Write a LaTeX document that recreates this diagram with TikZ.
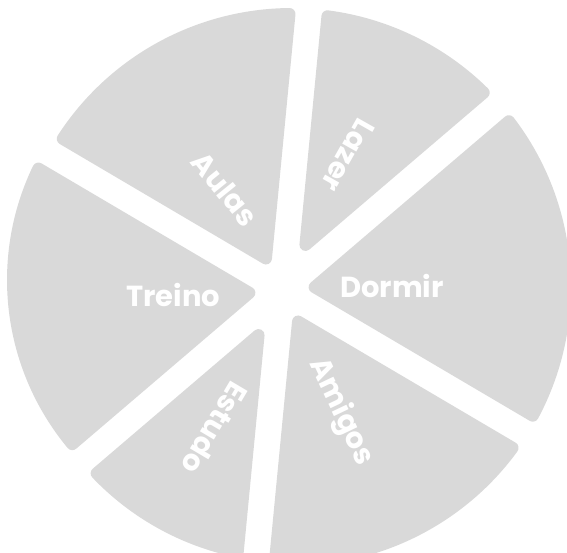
\documentclass[tikz,border=0pt]{standalone}
\usepackage{fontspec}
\setmainfont{Poppins}
\usepackage{tikz}
\usetikzlibrary{calc}
\definecolor{slicegray}{HTML}{D9D9D9}
\tikzset{
  pieslice/.style={fill=slicegray, draw=slicegray, line width=12pt, line join=round},
  slicelabel/.style={text=white, font=\bfseries\fontsize{29}{32}\selectfont, inner sep=0pt},
}

\begin{document}
\begin{tikzpicture}[x=1pt, y=1pt]
  \useasboundingbox (0,0) rectangle (567,552);
  % centre of the cuts and centres of the rims
  \coordinate (O) at (282,262);
  \coordinate (C) at (292,265);
  \coordinate (Ct) at (270,272);

  % Slices
  \filldraw[pieslice] ($(O)+(23.42,44.99)$) -- ($(C)+(45.38:273)$) arc[start angle=45.38, end angle=82.54, radius=273] -- cycle;
  \filldraw[pieslice] ($(O)+(-16.05,31.5)$) -- ($(C)+(90.53:273)$) arc[start angle=90.53, end angle=147.12, radius=273] -- cycle;
  \filldraw[pieslice] ($(O)+(-32.6,-2.85)$) -- ($(Ct)+(154.3:257)$) arc[start angle=154.3, end angle=219.7, radius=257] -- cycle;
  \filldraw[pieslice] ($(O)+(-23.42,-44.99)$) -- ($(C)+(223.64:270)$) arc[start angle=223.64, end angle=258.41, radius=270] -- cycle;
  \filldraw[pieslice] ($(O)+(16.05,-31.5)$) -- ($(C)+(266.46:273)$) arc[start angle=266.46, end angle=323.9, radius=273] -- cycle;
  \filldraw[pieslice] ($(O)+(32.6,2.85)$) -- ($(C)+(331.88:273)$) arc[start angle=331.88, end angle=397.39, radius=273] -- cycle;

  % Labels
  \node[slicelabel, rotate=-51] (aulas) at (225,363) {Aulas};
  \node[slicelabel, rotate=-119.5] (lazer) at (348,396.5) {Lazer};
  \node[slicelabel] (treino) at (173.4,256.5) {Treino};
  \node[slicelabel] (dormir) at (392,266) {Dormir};
  \node[slicelabel, rotate=-120.7] (estudo) at (215,124) {Estudo};
  \node[slicelabel, rotate=-64.5] (amigos) at (341,140) {Amigos};
\end{tikzpicture}
\end{document}
